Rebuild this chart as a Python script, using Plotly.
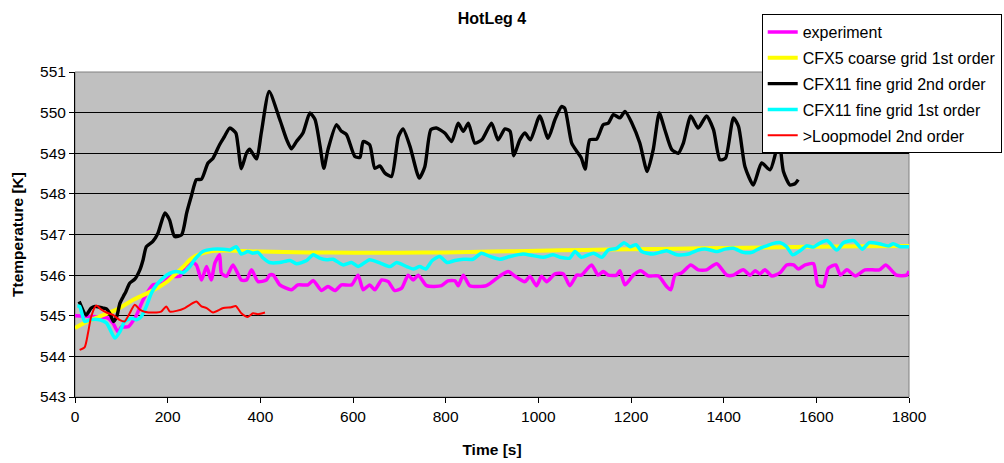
import plotly.graph_objects as go

# ---- data ----
exp_t = [0, 40, 70, 82, 93, 100, 115, 132, 147, 168, 190, 205, 226, 237, 251, 262, 273, 284, 294, 302, 312, 316, 327, 341, 359, 370, 381, 395, 413, 420, 428, 442, 467, 481, 503, 514, 532, 546, 561, 575, 597, 611, 622, 636, 647, 662, 676, 690, 705, 719, 730, 741, 759, 791, 805, 820, 827, 838, 852, 888, 917, 935, 949, 971, 982, 996, 1007, 1018, 1036, 1054, 1068, 1083, 1093, 1115, 1129, 1140, 1151, 1169, 1176, 1187, 1205, 1221, 1237, 1259, 1277, 1286, 1295, 1309, 1329, 1345, 1363, 1385, 1407, 1421, 1442, 1457, 1468, 1478, 1489, 1504, 1522, 1536, 1551, 1561, 1576, 1594, 1603, 1615, 1626, 1642, 1652, 1666, 1684, 1705, 1736, 1750, 1773, 1795, 1800]
exp_v = [545.0, 544.98, 544.95, 544.82, 544.6, 544.72, 544.73, 545.0, 545.39, 545.76, 545.8, 545.97, 545.97, 546.21, 546.33, 546.25, 545.88, 546.21, 545.88, 546.3, 546.5, 546.05, 545.97, 546.25, 545.88, 545.88, 546.13, 545.84, 545.88, 546.0, 546.0, 545.76, 545.64, 545.76, 545.76, 545.87, 545.62, 545.72, 545.62, 545.76, 545.76, 546.0, 545.64, 545.76, 545.64, 545.88, 545.84, 545.62, 545.68, 546.0, 545.88, 546.0, 545.74, 545.74, 545.86, 545.86, 545.74, 546.0, 545.74, 545.74, 545.98, 546.09, 545.98, 545.84, 545.97, 545.74, 545.97, 545.84, 546.03, 546.03, 545.74, 546.0, 546.0, 546.25, 546.0, 546.09, 546.0, 546.0, 546.11, 545.76, 546.0, 546.11, 545.98, 545.98, 545.72, 545.64, 546.0, 546.05, 546.25, 546.13, 546.13, 546.28, 546.0, 546.0, 546.13, 546.0, 546.11, 546.03, 546.13, 545.98, 546.06, 546.25, 546.25, 546.15, 546.25, 546.28, 545.76, 545.72, 546.17, 546.25, 546.0, 546.13, 545.98, 546.13, 546.13, 546.25, 546.0, 546.0, 546.1]

cfx5_t = [0, 25, 53, 90, 125, 155, 183, 200, 219, 235, 248, 262, 276, 290, 305, 350, 400, 500, 600, 700, 800, 900, 1000, 1100, 1200, 1300, 1400, 1500, 1600, 1700, 1800]
cfx5_v = [544.7, 544.85, 544.98, 545.15, 545.39, 545.55, 545.72, 545.85, 546.05, 546.22, 546.38, 546.48, 546.54, 546.58, 546.6, 546.6, 546.58, 546.56, 546.55, 546.55, 546.56, 546.58, 546.6, 546.62, 546.64, 546.65, 546.67, 546.68, 546.7, 546.71, 546.72]

fine2_t = [9, 24, 35, 43, 53, 60, 68, 75, 83, 90, 97, 104, 110, 118, 129, 140, 147, 154, 168, 179, 194, 204, 215, 230, 241, 251, 262, 273, 287, 298, 312, 322, 334, 347, 352, 359, 370, 377, 392, 402, 419, 442, 457, 467, 478, 492, 507, 518, 529, 537, 546, 564, 575, 586, 604, 615, 622, 636, 647, 658, 669, 683, 698, 708, 723, 743, 755, 768, 780, 798, 813, 827, 838, 849, 863, 878, 899, 913, 928, 939, 947, 960, 971, 983, 1003, 1021, 1036, 1050, 1057, 1072, 1086, 1093, 1101, 1111, 1126, 1140, 1151, 1162, 1176, 1187, 1202, 1219, 1235, 1248, 1261, 1273, 1288, 1302, 1313, 1329, 1345, 1363, 1378, 1392, 1404, 1421, 1432, 1446, 1464, 1482, 1500, 1511, 1519, 1529, 1543, 1554, 1561]
fine2_v = [545.35, 545.02, 545.19, 545.23, 545.21, 545.19, 545.17, 545.06, 544.86, 544.98, 545.31, 545.47, 545.6, 545.8, 545.9, 546.13, 546.38, 546.7, 546.83, 547.03, 547.53, 547.36, 546.95, 546.99, 547.53, 547.94, 548.35, 548.36, 548.76, 548.88, 549.21, 549.4, 549.62, 549.5, 549.17, 548.62, 549.0, 549.1, 548.86, 549.5, 550.52, 549.83, 549.33, 549.11, 549.29, 549.5, 549.99, 549.83, 549.17, 548.63, 549.09, 549.7, 549.54, 549.46, 548.92, 548.9, 549.29, 549.21, 548.63, 548.69, 548.51, 548.43, 549.41, 549.6, 549.17, 548.39, 548.67, 549.58, 549.62, 549.5, 549.29, 549.74, 549.54, 549.74, 549.25, 549.33, 549.74, 549.33, 549.6, 549.54, 548.94, 549.33, 549.5, 549.33, 549.92, 549.37, 549.83, 550.15, 550.11, 549.25, 549.0, 548.88, 548.61, 549.33, 549.35, 549.7, 549.74, 549.95, 549.87, 550.03, 549.74, 549.25, 548.55, 549.09, 549.99, 549.58, 549.09, 549.0, 549.25, 549.92, 549.62, 549.92, 549.58, 548.84, 548.88, 549.87, 549.66, 548.67, 548.22, 548.76, 548.59, 548.96, 549.45, 548.55, 548.22, 548.25, 548.35]

fine1_t = [5, 10, 21, 32, 53, 68, 86, 97, 107, 122, 133, 143, 154, 165, 176, 190, 205, 219, 233, 248, 258, 276, 298, 320, 334, 348, 359, 373, 384, 395, 406, 420, 442, 464, 478, 500, 514, 528, 543, 557, 579, 597, 611, 636, 658, 680, 694, 716, 730, 744, 757, 771, 787, 803, 820, 838, 859, 877, 895, 917, 939, 967, 989, 1011, 1032, 1047, 1068, 1079, 1093, 1119, 1137, 1151, 1169, 1185, 1198, 1211, 1223, 1248, 1277, 1299, 1324, 1345, 1363, 1385, 1403, 1421, 1442, 1461, 1478, 1493, 1504, 1522, 1536, 1549, 1565, 1579, 1594, 1605, 1623, 1644, 1659, 1681, 1699, 1714, 1736, 1756, 1766, 1781, 1800]
fine1_v = [545.24, 545.23, 544.86, 544.9, 544.9, 544.82, 544.45, 544.61, 544.86, 544.94, 544.9, 544.98, 545.23, 545.56, 545.76, 545.93, 546.05, 546.09, 546.06, 546.21, 546.38, 546.58, 546.64, 546.64, 546.62, 546.7, 546.52, 546.58, 546.54, 546.56, 546.42, 546.31, 546.31, 546.36, 546.28, 546.36, 546.5, 546.42, 546.38, 546.39, 546.25, 546.31, 546.21, 546.38, 546.3, 546.21, 546.31, 546.21, 546.15, 546.21, 546.15, 546.36, 546.46, 546.31, 546.36, 546.39, 546.39, 546.54, 546.46, 546.39, 546.46, 546.52, 546.48, 546.44, 546.5, 546.44, 546.42, 546.58, 546.44, 546.54, 546.44, 546.62, 546.66, 546.8, 546.7, 546.75, 546.58, 546.52, 546.6, 546.5, 546.52, 546.62, 546.64, 546.58, 546.64, 546.66, 546.56, 546.56, 546.66, 546.72, 546.77, 546.8, 546.7, 546.5, 546.6, 546.72, 546.69, 546.77, 546.85, 546.62, 546.8, 546.85, 546.64, 546.8, 546.77, 546.72, 546.77, 546.7, 546.7]

loop_t = [10, 21, 28, 35, 46, 57, 68, 82, 96, 107, 118, 129, 140, 150, 176, 186, 197, 205, 219, 237, 248, 262, 273, 284, 298, 320, 337, 347, 359, 373, 384, 395, 410]
loop_v = [544.16, 544.23, 544.57, 544.98, 545.25, 545.15, 545.08, 545.02, 544.9, 544.86, 545.06, 545.27, 545.15, 545.1, 545.08, 545.1, 545.23, 545.1, 545.12, 545.19, 545.27, 545.35, 545.23, 545.19, 545.08, 545.19, 545.21, 545.24, 545.06, 544.97, 545.06, 545.04, 545.08]

x_ticks = [0, 200, 400, 600, 800, 1000, 1200, 1400, 1600, 1800]
y_ticks = [543, 544, 545, 546, 547, 548, 549, 550, 551]

series = [
    ("experiment", exp_t, exp_v, "#FF00FF", 3.5),
    ("CFX5 coarse grid 1st order", cfx5_t, cfx5_v, "#FFFF00", 4),
    ("CFX11 fine grid 2nd order", fine2_t, fine2_v, "#000000", 3.4),
    ("CFX11 fine grid 1st order", fine1_t, fine1_v, "#00FFFF", 3.5),
    (">Loopmodel 2nd order", loop_t, loop_v, "#FF0000", 2),
]

FONT = "Liberation Sans, Arial, sans-serif"

fig = go.Figure()
for i, (name, t, v, col, w) in enumerate(series):
    fig.add_trace(go.Scatter(
        x=t, y=v, mode="lines", name=name, legendgroup=f"g{i}",
        line=dict(color=col, width=w, shape="spline", smoothing=0.6),
    ))

fig.add_shape(type="rect", xref="paper", yref="paper", x0=0, x1=1, y0=0, y1=1,
              line=dict(color="#808080", width=1), layer="below")

fig.update_layout(
    width=1004, height=463,
    margin=dict(l=75, r=95, t=72, b=66, autoexpand=False),
    paper_bgcolor="white", plot_bgcolor="#C0C0C0",
    font=dict(family=FONT, size=15.5, color="black"),
    title=dict(text="<b>HotLeg 4</b>", x=492 / 1004, xanchor="center",
               y=1 - 18 / 463, yanchor="middle", yref="container",
               font=dict(size=16, family=FONT)),
    showlegend=True,
    legend=dict(x=0.8234, y=1.178, xanchor="left", yanchor="top",
                bgcolor="white", bordercolor="black", borderwidth=1,
                font=dict(size=16, family=FONT), tracegroupgap=2,
                itemwidth=30),
    xaxis=dict(range=[0, 1800], tickvals=x_ticks, ticks="outside", ticklen=5,
               tickcolor="black", showline=True, linecolor="black", linewidth=1,
               showgrid=False, zeroline=False, automargin=False,
               title=dict(text="<b>Time [s]</b>", font=dict(size=15.5), standoff=20)),
    yaxis=dict(range=[543, 551], tickvals=y_ticks, ticks="outside", ticklen=5,
               tickcolor="black", showline=True, linecolor="black", linewidth=1,
               showgrid=True, gridcolor="black", gridwidth=1, zeroline=False,
               automargin=False,
               title=dict(text="<b>Ttemperature [K]</b>", font=dict(size=15.5), standoff=12)),
)

fig.write_html("out.html", config={"displayModeBar": False},
               post_script="document.body.style.margin='0px';document.body.style.padding='0px';")
